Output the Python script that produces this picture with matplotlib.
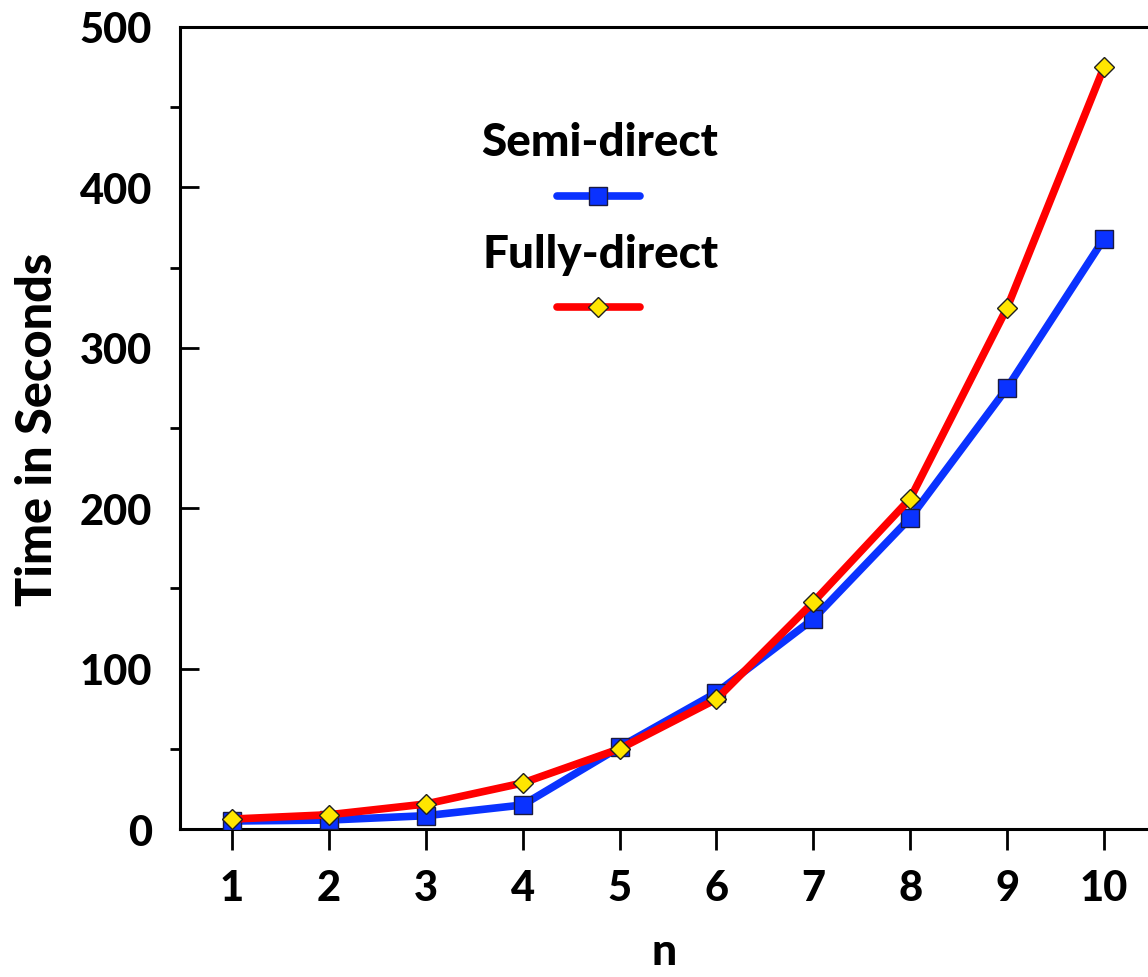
import matplotlib
matplotlib.use("Agg")
import matplotlib.pyplot as plt
from matplotlib.ticker import MultipleLocator

plt.rcParams['font.family'] = ['Lato', 'DejaVu Sans']

n = [1, 2, 3, 4, 5, 6, 7, 8, 9, 10]
semi_direct = [5, 5.6, 8.3, 15, 51, 85, 131, 194, 275, 368]
fully_direct = [6.2, 8.9, 15.6, 28.7, 50, 81, 141.5, 206, 325, 475]
x_ticks = [1, 2, 3, 4, 5, 6, 7, 8, 9, 10]
y_ticks = [0, 100, 200, 300, 400, 500]

fig = plt.figure(figsize=(11.48, 9.78), dpi=100)
ax = fig.add_axes([0.1568, 0.1513, 0.8432, 0.8201])

blue = '#0a32ff'
red = '#ff0000'
yellow = '#ffe600'

ax.plot(n, semi_direct, color=blue, lw=5.5, marker='s', ms=13.5,
        mfc=blue, mec='#1a1a40', mew=1.0, solid_capstyle='round', zorder=3)
ax.plot(n, fully_direct, color=red, lw=5.5, marker='D', ms=10,
        mfc=yellow, mec='#202020', mew=1.0, solid_capstyle='round', zorder=4)

ax.set_xlim(0.463, 10.454)
ax.set_ylim(0, 500)
ax.set_xticks(x_ticks)
ax.set_yticks(y_ticks)
ax.yaxis.set_minor_locator(MultipleLocator(50))

for side in ('left', 'top', 'bottom'):
    ax.spines[side].set_linewidth(2.2)
ax.spines['right'].set_visible(False)

ax.tick_params(axis='y', which='major', direction='in', length=14, width=2,
               labelsize=30, pad=20)
ax.tick_params(axis='y', which='minor', direction='out', length=7, width=2)
ax.tick_params(axis='x', which='major', direction='out', length=15, width=2,
               labelsize=30, pad=14)
for lbl in ax.get_xticklabels() + ax.get_yticklabels():
    lbl.set_fontweight('black')

ax.set_xlabel('n', fontsize=32, fontweight='black', labelpad=17)
ax.set_ylabel('Time in Seconds', fontsize=35, fontweight='black', labelpad=14)

# legend: label above each line sample
tr = ax.transAxes
ax.text(0.434, 0.857, 'Semi-direct', transform=tr, ha='center', va='center',
        fontsize=33, fontweight='black')
ax.plot([0.389, 0.475], [0.789, 0.789], transform=tr, color=blue, lw=5.5,
        solid_capstyle='round', clip_on=False)
ax.plot([0.432], [0.789], transform=tr, marker='s', ms=13.5, mfc=blue,
        mec='#1a1a40', mew=1.0, clip_on=False)
ax.text(0.434, 0.717, 'Fully-direct', transform=tr, ha='center', va='center',
        fontsize=33, fontweight='black')
ax.plot([0.389, 0.475], [0.651, 0.651], transform=tr, color=red, lw=5.5,
        solid_capstyle='round', clip_on=False)
ax.plot([0.432], [0.651], transform=tr, marker='D', ms=10, mfc=yellow,
        mec='#202020', mew=1.0, clip_on=False)

fig.savefig('out.png', dpi=100)
